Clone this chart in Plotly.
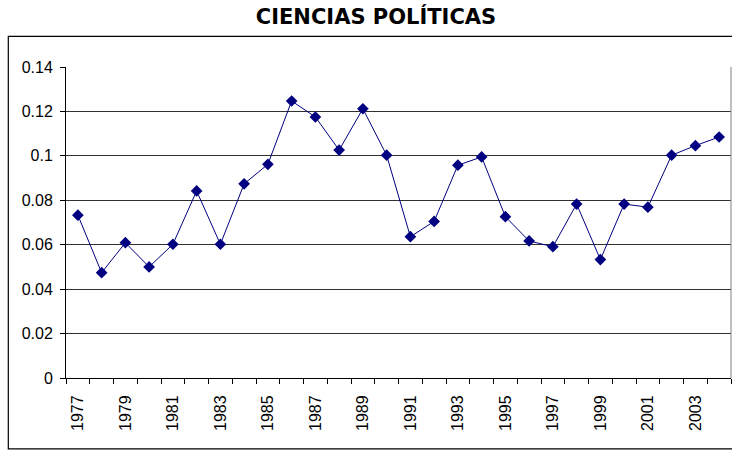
import plotly.graph_objects as go

years = [1977, 1978, 1979, 1980, 1981, 1982, 1983, 1984, 1985, 1986,
         1987, 1988, 1989, 1990, 1991, 1992, 1993, 1994, 1995, 1996,
         1997, 1998, 1999, 2000, 2001, 2002, 2003, 2004]
values = [0.0733, 0.0474, 0.0609, 0.0500, 0.0602, 0.0842, 0.0602, 0.0874, 0.0962, 0.1247,
          0.1175, 0.1026, 0.1212, 0.1003, 0.0636, 0.0705, 0.0958, 0.0995, 0.0726, 0.0617,
          0.0591, 0.0783, 0.0533, 0.0783, 0.0769, 0.1003, 0.1046, 0.1085]
x_tick_years = [1977, 1979, 1981, 1983, 1985, 1987, 1989, 1991, 1993, 1995, 1997, 1999, 2001, 2003]
y_tick_vals = [0, 0.02, 0.04, 0.06, 0.08, 0.10, 0.12, 0.14]
y_tick_text = ["0", "0.02", "0.04", "0.06", "0.08", "0.1", "0.12", "0.14"]
title_text = "CIENCIAS POLÍTICAS"

fig = go.Figure()
fig.add_trace(go.Scatter(
    x=years, y=values, mode="lines+markers",
    line=dict(color="#000080", width=1),
    marker=dict(symbol="diamond", size=9, color="#000080"),
    showlegend=False, hoverinfo="skip", cliponaxis=False,
))

tick_font = dict(family="Liberation Sans, Arial, sans-serif", size=16, color="black")

fig.update_layout(
    width=732, height=450,
    margin=dict(l=66, r=1, t=67, b=72, pad=0, autoexpand=False),
    paper_bgcolor="white", plot_bgcolor="white",
    title=dict(text="<b>" + title_text + "</b>", x=376 / 732, xanchor="center",
               y=1 - 17 / 450, yanchor="middle",
               font=dict(family="DejaVu Sans, sans-serif", size=21, color="black")),
    xaxis=dict(
        range=[years[0] - 0.5, years[-1] + 0.5], automargin=False,
        tickmode="array", tickvals=x_tick_years, ticktext=[str(y) for y in x_tick_years],
        tickangle=-90, ticks="", tickfont=tick_font, ticklabelstandoff=10,
        showgrid=False, zeroline=False,
        showline=True, linecolor="black", linewidth=1,
        minor=dict(tick0=years[0] - 0.5, dtick=1, ticks="outside", ticklen=5,
                   tickcolor="black", tickwidth=1, showgrid=False),
    ),
    yaxis=dict(
        range=[0, 0.14], automargin=False,
        tickmode="array", tickvals=y_tick_vals, ticktext=y_tick_text,
        ticks="outside", ticklen=5, tickcolor="black", tickwidth=1,
        tickfont=tick_font, ticklabelstandoff=4,
        showgrid=True, gridcolor="#303030", gridwidth=1,
        zeroline=False, showline=True, linecolor="black", linewidth=1,
    ),
    shapes=[
        dict(type="rect", xref="paper", yref="paper",
             x0=(8.3 - 66) / 665, x1=1.02, y0=(378.3 - 449.3) / 311.6, y1=(378.3 - 36) / 311.6,
             line=dict(color="black", width=1.2), fillcolor="rgba(0,0,0,0)", layer="below"),
        dict(type="line", xref="paper", yref="paper", x0=1, x1=1, y0=0, y1=1,
             line=dict(color="#808080", width=1)),
    ],
)

fig.write_html("out.html", config={"displayModeBar": False},
               post_script="document.body.style.margin='0';document.body.style.overflow='hidden';")
